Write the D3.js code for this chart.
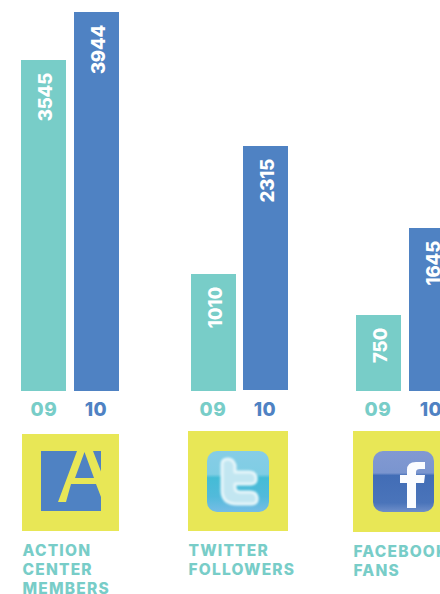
<!DOCTYPE html>
<html><head><meta charset="utf-8">
<script src="https://cdn.jsdelivr.net/npm/d3@7"></script>
<style>
html,body{margin:0;padding:0;background:#fff;overflow:hidden}
svg{display:block}
text{font-family:Inter,"Open Sans",sans-serif;font-weight:800}
</style></head><body>
<script>
const categories = [["ACTION","CENTER","MEMBERS"],["TWITTER","FOLLOWERS"],["FACEBOOK","FANS"]];
const years = ["09","10"];
const values09 = [3545,1010,750];
const values10 = [3944,2315,1645];

const W=440,H=594,TEAL="#78cdc8",BLUE="#4f82c3",YELLOW="#e8e756";
// The source graphic is hand-drawn, its bar heights are not strictly proportional:
// a piecewise scale through the measured heights reproduces it.
const h=d3.scaleLinear().domain([0,750,1010,1645,2315,3545,3944]).range([0,76,117,163,244,331,379]);
const layout=[
 {x09:21,x10:74,base09:391,base10:391,lab09:44,lab10:96,sq:[22,434,97,97],labelX:22.5,labelY:556,yearY:416},
 {x09:191,x10:243,base09:391,base10:390,lab09:213,lab10:265,sq:[188,431,100,100],labelX:188.5,labelY:556,yearY:416},
 {x09:356,x10:409,base09:391,base10:391,lab09:378,lab10:431,sq:[353,431,100,101],labelX:353.5,labelY:557,yearY:416}
];
const BW=45;
const svg=d3.select("body").append("svg").attr("width",W).attr("height",H).attr("viewBox",`0 0 ${W} ${H}`);
const defs=svg.append("defs");
const g1=defs.append("linearGradient").attr("id","tw").attr("x1",0).attr("x2",0).attr("y1",0).attr("y2",1);
[[0,"#86cde6"],[.38,"#7fcde4"],[.44,"#44bcd6"],[.75,"#52badb"],[1,"#76bde6"]].forEach(s=>g1.append("stop").attr("offset",s[0]).attr("stop-color",s[1]));
const g2=defs.append("linearGradient").attr("id","fb").attr("x1",0).attr("x2",0).attr("y1",0).attr("y2",1);
[[0,"#8299d2"],[.36,"#7a95cf"],[.4,"#426db6"],[.85,"#4a74ba"],[1,"#6f8fc9"]].forEach(s=>g2.append("stop").attr("offset",s[0]).attr("stop-color",s[1]));
defs.append("filter").attr("id","soft").append("feGaussianBlur").attr("stdDeviation",0.8);

categories.forEach((cat,i)=>{
  const L=layout[i];
  const g=svg.append("g");
  const bars=[{v:values09[i],x:L.x09,c:TEAL,lx:L.lab09,y:years[0],base:L.base09},{v:values10[i],x:L.x10,c:BLUE,lx:L.lab10,y:years[1],base:L.base10}];
  bars.forEach(b=>{
    const top=b.base-h(b.v);
    g.append("rect").attr("x",b.x).attr("y",top).attr("width",BW).attr("height",h(b.v)).attr("fill",b.c);
    g.append("text").text(b.v).attr("fill","#fff").attr("font-size",18.5).attr("letter-spacing",-0.2).attr("text-anchor","end")
      .attr("transform",`translate(${b.x+BW/2+8},${top+13}) rotate(-90)`);
    g.append("text").text(b.y).attr("x",b.lx).attr("y",L.yearY).attr("fill",b.c)
      .attr("font-size",19).attr("letter-spacing",0.6).attr("text-anchor","middle");
  });
  g.append("rect").attr("x",L.sq[0]).attr("y",L.sq[1]).attr("width",L.sq[2]).attr("height",L.sq[3]).attr("fill",YELLOW);
  cat.forEach((t,j)=>g.append("text").text(t).attr("x",L.labelX).attr("y",L.labelY+j*19)
    .attr("fill",TEAL).attr("font-size",15.5).attr("letter-spacing",1.2));
});

// icons
svg.append("rect").attr("x",41).attr("y",451).attr("width",60).attr("height",60).attr("fill",BLUE);
svg.append("path").attr("fill",YELLOW).attr("fill-rule","evenodd")
  .attr("d","M58,502L66,502L71,484L96,484L101,497L101,471.5L93,451L77,451Z M75,478L84.5,452L94,478Z");

svg.append("rect").attr("x",207).attr("y",451).attr("width",62).attr("height",61).attr("rx",10).attr("fill","url(#tw)");
const birdD="M222,464 L222,490 Q222,504 237,504 L252,504 Q258,504 257,497 Q256,492 250,492 L240,492 Q235,492 235,487 L235,484 L251,484 Q257,484 256,477 Q255,472 249,472 L235,472 L235,465 Q233,459 228,459 Q222,459 222,464 Z";
svg.append("path").attr("d",birdD).attr("stroke","#e6f6fa").attr("stroke-width",3).attr("stroke-linejoin","round").attr("fill","#c2e6f1").attr("filter","url(#soft)");

svg.append("rect").attr("x",373).attr("y",451).attr("width",61).attr("height",61).attr("rx",10).attr("fill","url(#fb)");
svg.append("path").attr("fill","#fbfcff")
  .attr("d","M407,508L407,483L400,483L400,475L407,475L407,470Q407,462 416,462L425,462L425,469L420,469Q416,469 416,472L416,475L425,475L424,483L416,483L416,508Z");
</script>
</body></html>
